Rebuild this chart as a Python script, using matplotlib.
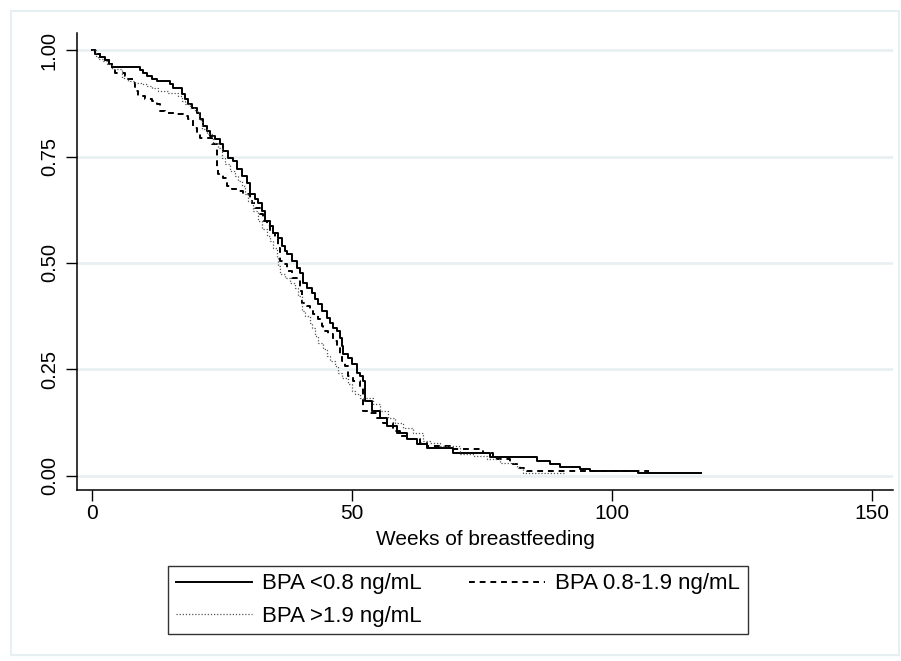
import matplotlib
matplotlib.use("Agg")
import matplotlib.pyplot as plt
from matplotlib.lines import Line2D
from matplotlib.patches import Rectangle

plt.rcParams["font.family"] = ["Liberation Sans", "DejaVu Sans"]

# Kaplan-Meier steps: (week, survival after the drop)
low_weeks = [0, 0.6, 1.5, 2.5, 3.2, 3.9, 9.2, 9.8, 10.6, 11.5, 12.5, 15.0, 15.6, 17.3, 17.9,
             18.5, 19.2, 20.2, 20.8, 21.3, 22.1, 22.7, 23.7, 24.6, 25.2, 26.2, 27.1, 27.9,
             28.8, 29.8, 30.4, 31.3, 31.9, 32.7, 33.3, 34.2, 34.8, 35.8, 36.5, 37.1, 37.5,
             38.5, 39.4, 40.0, 40.6, 41.3, 42.3, 42.9, 43.5, 44.2, 45.2, 45.8, 46.3, 47.1,
             47.7, 48.1, 48.3, 49.2, 50.0, 51.0, 51.5, 52.0, 52.5, 53.8, 55.4, 56.7, 58.7,
             60.6, 62.5, 64.4, 69.4, 76.5, 85.6, 88.0, 90.0, 93.8, 95.8, 105.0, 117.0]
low_surv = [1.0, 0.99, 0.984, 0.977, 0.968, 0.96, 0.953, 0.946, 0.939, 0.932, 0.927, 0.92,
            0.911, 0.897, 0.885, 0.873, 0.864, 0.852, 0.838, 0.822, 0.81, 0.798, 0.791,
            0.779, 0.763, 0.746, 0.739, 0.721, 0.704, 0.688, 0.662, 0.65, 0.641, 0.622,
            0.599, 0.587, 0.57, 0.559, 0.54, 0.528, 0.521, 0.505, 0.488, 0.477, 0.453,
            0.441, 0.43, 0.415, 0.404, 0.387, 0.371, 0.359, 0.347, 0.34, 0.324, 0.305,
            0.286, 0.277, 0.263, 0.242, 0.235, 0.223, 0.176, 0.153, 0.136, 0.117, 0.101,
            0.087, 0.075, 0.066, 0.054, 0.045, 0.035, 0.028, 0.021, 0.016, 0.012, 0.007,
            0.007]

mid_weeks = [0, 0.6, 1.5, 2.5, 3.2, 3.8, 4.4, 6.3, 6.9, 7.9, 8.3, 8.8, 10.2, 11.5, 12.5,
             13.1, 14.0, 15.9, 17.5, 18.5, 19.4, 20.2, 20.8, 23.1, 24.0, 24.1, 24.2, 25.2,
             26.0, 26.9, 27.9, 29.0, 30.4, 30.8, 31.3, 32.3, 32.9, 33.7, 34.2, 35.2, 35.8,
             36.2, 36.7, 37.5, 38.5, 40.0, 40.4, 41.3, 41.9, 42.5, 43.5, 44.2, 44.4, 45.4,
             46.3, 47.1, 47.7, 48.1, 48.7, 49.2, 50.2, 51.5, 52.1, 53.1, 54.8, 56.0, 57.9,
             59.2, 60.6, 63.1, 64.4, 68.8, 75.2, 77.1, 80.4, 82.3, 83.7, 107.0]
mid_surv = [1.0, 0.99, 0.984, 0.977, 0.968, 0.958, 0.946, 0.939, 0.932, 0.923, 0.904,
            0.892, 0.885, 0.88, 0.873, 0.857, 0.852, 0.85, 0.845, 0.838, 0.817, 0.803,
            0.793, 0.779, 0.758, 0.72, 0.709, 0.7, 0.681, 0.674, 0.669, 0.662, 0.653,
            0.641, 0.629, 0.615, 0.599, 0.587, 0.57, 0.556, 0.535, 0.505, 0.498, 0.481,
            0.465, 0.434, 0.406, 0.398, 0.387, 0.38, 0.369, 0.352, 0.34, 0.333, 0.317,
            0.3, 0.286, 0.27, 0.258, 0.235, 0.223, 0.207, 0.153, 0.148, 0.136, 0.124,
            0.106, 0.094, 0.087, 0.077, 0.07, 0.063, 0.054, 0.04, 0.028, 0.019, 0.012,
            0.012]

high_weeks = [0, 0.8, 1.2, 2.1, 2.9, 3.8, 5.8, 6.9, 8.3, 9.6, 10.6, 11.5, 12.7, 14.6, 16.5,
              17.3, 17.9, 18.8, 19.8, 20.5, 21.2, 22.1, 23.3, 24.2, 25.0, 25.6, 26.5, 27.5,
              28.1, 28.8, 29.4, 30.0, 31.0, 31.9, 32.7, 33.7, 34.2, 34.8, 35.6, 35.8, 36.2,
              37.1, 38.1, 39.0, 39.6, 40.4, 41.0, 41.9, 42.3, 42.9, 43.5, 44.4, 45.2, 45.8,
              46.7, 47.3, 48.1, 49.2, 50.0, 50.6, 51.5, 54.0, 55.4, 56.9, 58.3, 59.8, 61.7,
              63.7, 65.0, 66.9, 70.8, 73.3, 76.0, 78.5, 81.7, 82.9, 91.0]
high_surv = [1.0, 0.986, 0.979, 0.974, 0.967, 0.955, 0.934, 0.927, 0.923, 0.92, 0.915,
             0.911, 0.904, 0.899, 0.892, 0.88, 0.873, 0.864, 0.857, 0.835, 0.815, 0.803,
             0.782, 0.77, 0.746, 0.732, 0.716, 0.704, 0.692, 0.681, 0.662, 0.646, 0.622,
             0.599, 0.58, 0.563, 0.552, 0.535, 0.512, 0.493, 0.474, 0.465, 0.453, 0.441,
             0.423, 0.387, 0.376, 0.359, 0.347, 0.329, 0.312, 0.298, 0.282, 0.27, 0.258,
             0.242, 0.23, 0.215, 0.2, 0.192, 0.183, 0.169, 0.153, 0.136, 0.124, 0.113,
             0.101, 0.082, 0.077, 0.07, 0.052, 0.047, 0.04, 0.031, 0.019, 0.007, 0.007]

labels = ["BPA <0.8 ng/mL", "BPA 0.8-1.9 ng/mL", "BPA >1.9 ng/mL"]
x_ticks = [0, 50, 100, 150]
y_ticks = [0.0, 0.25, 0.5, 0.75, 1.0]
y_tick_labels = ["0.00", "0.25", "0.50", "0.75", "1.00"]

grid_col = "#e6eff1"

fig = plt.figure(figsize=(9.01, 6.61), dpi=100)
fig.patches.append(Rectangle((11 / 901, 6 / 661), 888 / 901, 644 / 661,
                             transform=fig.transFigure, fill=False,
                             edgecolor=grid_col, linewidth=1.5))

ax = fig.add_axes([77 / 901, 1 - 490 / 661, 816 / 901, 457 / 661])

ax.step(low_weeks, low_surv, where="post", color="black", linewidth=1.4)
ax.step(mid_weeks, mid_surv, where="post", color="black", linewidth=1.4,
        linestyle=(0, (3, 2.5)))
ax.step(high_weeks, high_surv, where="post", color="#555555", linewidth=0.9,
        linestyle=(0, (1, 1.5)))

ax.set_xlim(-2.9, 154)
ax.set_ylim(-0.033, 1.04)
ax.set_xticks(x_ticks)
ax.set_yticks(y_ticks)
ax.set_yticklabels(y_tick_labels, rotation=90, va="center")
ax.tick_params(axis="both", direction="out", length=8, width=1, labelsize=15,
               colors="black")
ax.tick_params(axis="y", pad=5, labelsize=14.5)
ax.tick_params(axis="x", pad=2)
for y in y_ticks:
    ax.axhline(y, color=grid_col, linewidth=1.8, zorder=0)
for s in ["top", "right"]:
    ax.spines[s].set_visible(False)
for s in ["left", "bottom"]:
    ax.spines[s].set_linewidth(1.1)
ax.set_xlabel("Weeks of breastfeeding", fontsize=15, labelpad=5)

handles = [
    Line2D([], [], color="black", linewidth=1.4),
    Line2D([], [], color="#555555", linewidth=0.9, linestyle=(0, (1, 1.5))),
    Line2D([], [], color="black", linewidth=1.4, linestyle=(0, (3, 2.5))),
]
leg = fig.legend(handles, [labels[0], labels[2], labels[1]], ncol=2,
                 loc="center", bbox_to_anchor=(458 / 901, 1 - 600 / 661),
                 fontsize=16, frameon=True, fancybox=False, handlelength=3.45,
                 handletextpad=0.45, columnspacing=2.1, labelspacing=0.5,
                 borderpad=0.35, borderaxespad=0)
leg.get_frame().set_edgecolor("black")
leg.get_frame().set_linewidth(1.0)

fig.savefig("out.png", dpi=100, facecolor="white")
